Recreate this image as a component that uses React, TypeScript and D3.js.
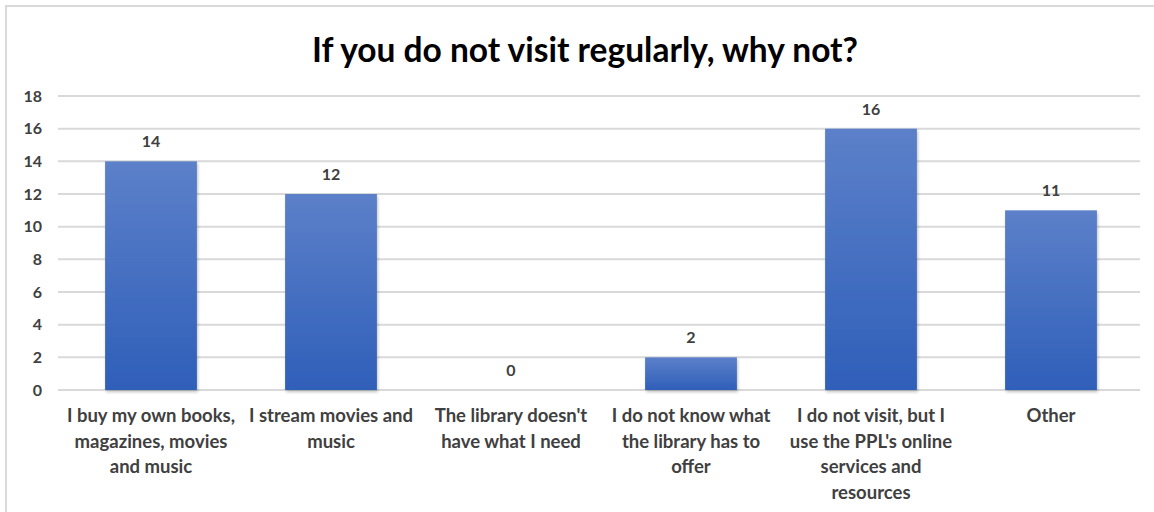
import React, { useRef, useEffect } from 'react';
import * as d3 from 'd3';

const title = 'If you do not visit regularly, why not?';
const categories = [
  ['I buy my own books,', 'magazines, movies', 'and music'],
  ['I stream movies and', 'music'],
  ["The library doesn't", 'have what I need'],
  ['I do not know what', 'the library has to', 'offer'],
  ['I do not visit, but I', "use the PPL's online", 'services and', 'resources'],
  ['Other'],
];
const values = [14, 12, 0, 2, 16, 11];
const yTicks = [0, 2, 4, 6, 8, 10, 12, 14, 16, 18];

const W = 1154;
const H = 512;
const FONT = 'Lato, "Open Sans", sans-serif';

const App: React.FC = () => {
  const ref = useRef<SVGSVGElement>(null);

  useEffect(() => {
    const svg = d3.select(ref.current);
    svg.selectAll('*').remove();
    const margin = { top: 96, right: 13, bottom: 122, left: 61 };
    const gridX = [58, 1140];

    const x = d3.scaleBand<number>()
      .domain(values.map((_, i) => i))
      .range([margin.left, W - margin.right])
      .paddingInner(0.49)
      .paddingOuter(0.245);

    const y = d3.scaleLinear()
      .domain([0, 18])
      .range([H - margin.bottom, margin.top]);

    const defs = svg.append('defs');
    const grad = defs.append('linearGradient')
      .attr('id', 'barGrad')
      .attr('x1', 0).attr('y1', 0).attr('x2', 0).attr('y2', 1);
    grad.append('stop').attr('offset', '0%').attr('stop-color', '#5c80c9');
    grad.append('stop').attr('offset', '100%').attr('stop-color', '#2f5fb9');
    const shadow = defs.append('filter').attr('id', 'shadow')
      .attr('x', '-10%').attr('y', '-10%').attr('width', '130%').attr('height', '130%');
    shadow.append('feDropShadow')
      .attr('dx', 1).attr('dy', 2).attr('stdDeviation', 1.5)
      .attr('flood-color', '#000').attr('flood-opacity', 0.25);

    // frame
    svg.append('path')
      .attr('d', `M6,${H} L6,6 L${W},6`)
      .attr('fill', 'none')
      .attr('stroke', '#d9d9d9')
      .attr('stroke-width', 2);

    svg.append('text')
      .attr('x', 585)
      .attr('y', 62)
      .attr('text-anchor', 'middle')
      .attr('font-family', FONT)
      .attr('font-weight', 700)
      .attr('font-size', 33.5)
      .attr('fill', '#000')
      .text(title);

    // grid
    svg.append('g')
      .selectAll('line')
      .data(yTicks)
      .join('line')
      .attr('x1', gridX[0])
      .attr('x2', gridX[1])
      .attr('y1', d => y(d))
      .attr('y2', d => y(d))
      .attr('stroke', '#d9d9d9')
      .attr('stroke-width', 2);

    svg.append('g')
      .selectAll('text')
      .data(yTicks)
      .join('text')
      .attr('x', 42)
      .attr('y', d => y(d))
      .attr('dy', '0.35em')
      .attr('text-anchor', 'end')
      .attr('font-family', FONT)
      .attr('font-weight', 700)
      .attr('font-size', 16)
      .attr('fill', '#404040')
      .text(d => d);

    // bars
    svg.append('g')
      .selectAll('rect')
      .data(values)
      .join('rect')
      .attr('x', (_, i) => x(i)!)
      .attr('y', d => y(d))
      .attr('width', x.bandwidth())
      .attr('height', d => y(0) - y(d))
      .attr('fill', 'url(#barGrad)')
      .attr('filter', 'url(#shadow)');

    svg.append('g')
      .selectAll('text')
      .data(values)
      .join('text')
      .attr('x', (_, i) => x(i)! + x.bandwidth() / 2)
      .attr('y', d => y(d) - 14)
      .attr('text-anchor', 'middle')
      .attr('font-family', FONT)
      .attr('font-weight', 700)
      .attr('font-size', 16)
      .attr('fill', '#404040')
      .text(d => d);

    // category labels
    const cats = svg.append('g')
      .selectAll('text')
      .data(categories)
      .join('text')
      .attr('x', (_, i) => x(i)! + x.bandwidth() / 2)
      .attr('y', 422)
      .attr('text-anchor', 'middle')
      .attr('font-family', FONT)
      .attr('font-weight', 700)
      .attr('font-size', 18.5)
      .attr('fill', '#404040');
    cats.selectAll('tspan')
      .data(d => d)
      .join('tspan')
      .attr('x', function () {
        return (this.parentNode as SVGTextElement).getAttribute('x');
      })
      .attr('dy', (_, j) => (j === 0 ? 0 : 25.5))
      .text(d => d);
  }, []);

  return (
    <svg
      ref={ref}
      width={W}
      height={H}
      style={{ position: 'absolute', left: 0, top: 0, background: '#fff' }}
    />
  );
};

export default App;
